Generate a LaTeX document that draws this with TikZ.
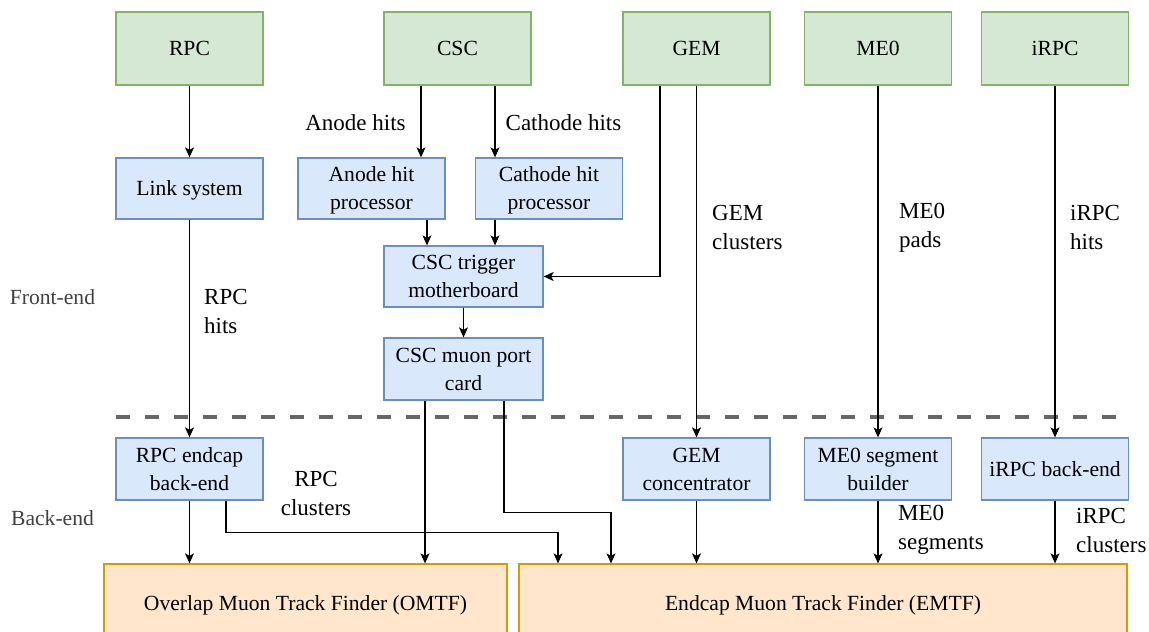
\documentclass[tikz,border=0pt]{standalone}
\usepackage{fontspec}
\setmainfont{Liberation Serif}
\newfontfamily\diagfont{Liberation Serif}
\usetikzlibrary{arrows.meta,calc}
\definecolor{gfill}{HTML}{D5E8D4}
\definecolor{gline}{HTML}{82B366}
\definecolor{bfill}{HTML}{DAE8FC}
\definecolor{bline}{HTML}{6C8EBF}
\definecolor{ofill}{HTML}{FFE6CC}
\definecolor{oline}{HTML}{D79B00}
\definecolor{dashgray}{HTML}{666666}
\definecolor{labgray}{HTML}{404040}
\newcommand{\boxstrut}{\rule[-5.3pt]{0pt}{24.9pt}}
\newcommand{\tallfirst}{\rule{0pt}{19.8pt}}
\begin{document}
\begin{tikzpicture}[x=1pt,y=-1pt,
  every node/.style={font=\diagfont\fontsize{21.6}{28}\selectfont, inner sep=0pt, align=center},
  anybox/.style={line width=1.3pt, execute at begin node=\boxstrut, execute at end node=\boxstrut},
  greenbox/.style={anybox, draw=gline, fill=gfill, minimum width=147pt, minimum height=73pt},
  bluebox/.style={anybox, draw=bline, fill=bfill, minimum width=147pt, minimum height=61pt},
  orangebox/.style={anybox, draw=oline, fill=ofill, minimum height=78pt},
  arr/.style={draw=black, line width=1.1pt, -{Stealth[length=10pt,width=9pt,inset=2.5pt]}},
  elab/.style={font=\diagfont\fontsize{23}{29}\selectfont},
  lab/.style={elab, anchor=west, align=left},
  sidelab/.style={text=labgray}
]
\useasboundingbox (0,0) rectangle (1149,632);
\begin{scope}
\clip (0,0) rectangle (1149,632);
% top detectors
\node[greenbox] (rpc)  at (189.5,48.5) {RPC};
\node[greenbox] (csc)  at (457.5,48.5) {CSC};
\node[greenbox] (gem)  at (696.5,48.5) {GEM};
\node[greenbox] (me0)  at (878,48.5) {ME0};
\node[greenbox] (irpc) at (1055,48.5) {iRPC};
% front-end blue
\node[bluebox] (link)    at (189.5,188.5) {Link system};
\node[bluebox] (anode)   at (371.5,188.5) {\tallfirst Anode hit\\processor};
\node[bluebox] (cathode) at (549,188.5) {\tallfirst Cathode hit\\processor};
\node[bluebox, minimum width=159pt] (mb)   at (463.5,276.5) {\tallfirst CSC trigger\\motherboard};
\node[bluebox, minimum width=159pt, minimum height=62pt] (port) at (463.5,369) {\tallfirst CSC muon port\\card};
% back-end blue
\node[bluebox, minimum height=62pt] (rpcbe)  at (189.5,469) {\tallfirst RPC endcap\\back-end};
\node[bluebox, minimum height=62pt] (gemc)   at (696.5,469) {\tallfirst GEM\\concentrator};
\node[bluebox, minimum height=62pt] (me0sb)  at (878,469) {\tallfirst ME0 segment\\builder};
\node[bluebox, minimum height=62pt] (irpcbe) at (1055,469) {iRPC back-end};
% track finders
\node[orangebox, minimum width=403pt] (omtf) at (305.5,603) {Overlap Muon Track Finder (OMTF)};
\node[orangebox, minimum width=608pt] (emtf) at (823,603) {Endcap Muon Track Finder (EMTF)};
\end{scope}
% dashed separator
\coordinate (dl1) at (116,417);
\coordinate (dl2) at (1125,417);
\draw[dashgray, line width=3.5pt, dash pattern=on 14pt off 15pt] (dl1) -- (dl2);
% side labels
\node[sidelab] (fe) at (52.5,297) {Front-end};
\node[sidelab] (be) at (52.5,518) {Back-end};
% connectors front-end
\draw[arr] (rpc.south) -- (link.north);
\draw[arr] ([xshift=-36.5pt]csc.south) -- ([xshift=49.5pt]anode.north);
\draw[arr] ([xshift=37.5pt]csc.south) -- ([xshift=-54pt]cathode.north);
\draw[arr] ([xshift=55.5pt]anode.south) -- ([xshift=-36.5pt]mb.north);
\draw[arr] ([xshift=-54pt]cathode.south) -- ([xshift=31.5pt]mb.north);
\draw[arr] ([xshift=-36.5pt]gem.south) |- (mb.east);
\draw[arr] (mb.south) -- (port.north);
\draw[arr] (link.south) -- (rpcbe.north);
\draw[arr] (gem.south) -- (gemc.north);
\draw[arr] (me0.south) -- (me0sb.north);
\draw[arr] (irpc.south) -- (irpcbe.north);
% connectors back-end
\draw[arr] (rpcbe.south) -- (rpcbe.south |- omtf.north);
\draw[arr] ([xshift=36.5pt]rpcbe.south) -- ++(0,32) -| ([xshift=-265pt]emtf.north);
\coordinate (p1) at ([xshift=-38.5pt]port.south);
\draw[arr] (p1) -- (p1 |- omtf.north);
\draw[arr] ([xshift=40.5pt]port.south) -- ++(0,112) -| ([xshift=-212pt]emtf.north);
\draw[arr] (gemc.south) -- (gemc.south |- emtf.north);
\draw[arr] (me0sb.south) -- (me0sb.south |- emtf.north);
\draw[arr] (irpcbe.south) -- (irpcbe.south |- emtf.north);
% connector labels
\node[elab] (lanode) at (355.5,123) {Anode hits};
\node[elab] (lcath) at (563.5,123) {Cathode hits};
\node[lab] (lrpchits) at (204,311) {RPC\\hits};
\node[lab] (lgem) at (712,227.5) {GEM\\clusters};
\node[lab] (lme0) at (899,227.5) {ME0\\pads};
\node[lab] (lirpc) at (1070,227.5) {iRPC\\hits};
\node[elab] (lrpccl) at (316,493.5) {RPC\\clusters};
\node[lab] (lme0seg) at (898,530) {ME0\\segments};
\node[lab] (lirpccl) at (1076,530) {iRPC\\clusters};
\end{tikzpicture}
\end{document}
